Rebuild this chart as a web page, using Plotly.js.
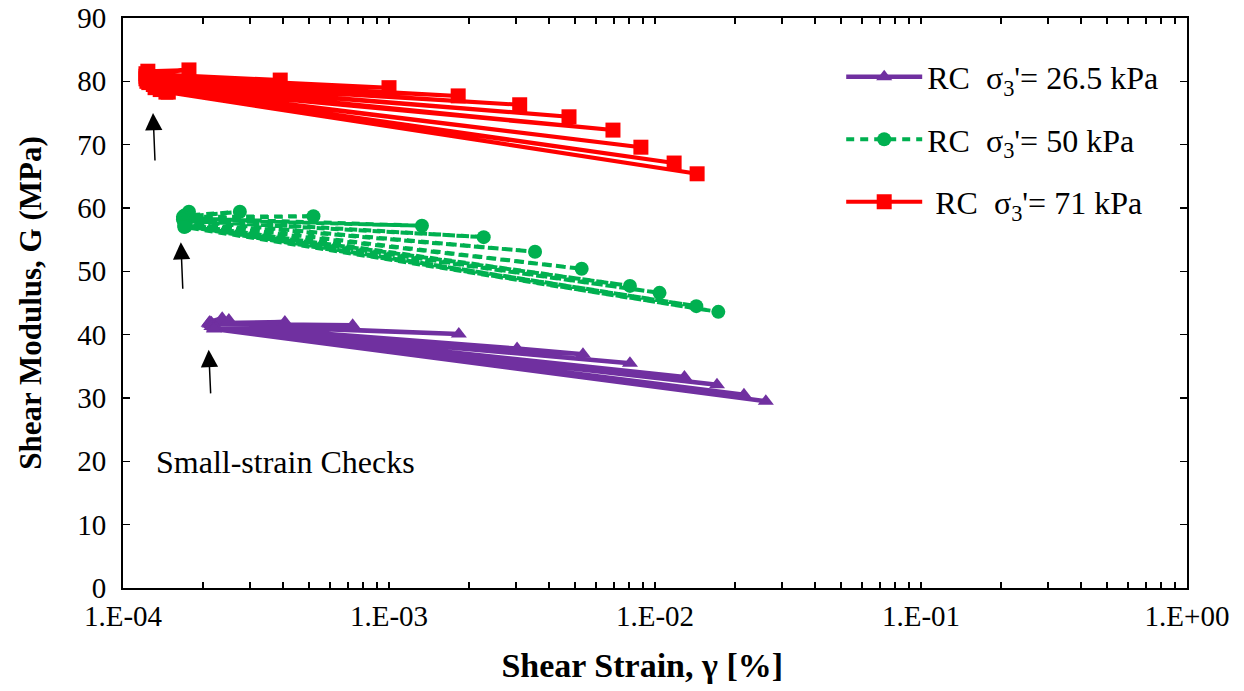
<!DOCTYPE html>
<html>
<head>
<meta charset="utf-8">
<script src="https://cdn.plot.ly/plotly-3.0.1.min.js"></script>
<style>html,body{margin:0;padding:0;background:#fff;}#chart{width:1244px;height:691px;}</style>
</head>
<body>
<div id="chart"></div>
<script>
const purpleStrain = [2.12e-4, 2.36e-4, 2.15e-4, 2.5e-4, 2.1e-4, 4.06e-4, 2.12e-4, 7.3e-4, 2.15e-4, 1.83e-3, 2.18e-4, 3.03e-3, 2.2e-4, 5.36e-3, 2.15e-4, 8.05e-3, 2.2e-4, 1.29e-2, 2.22e-4, 1.71e-2, 2.2e-4, 2.16e-2, 2.25e-4, 2.61e-2, 2.2e-4];
const purpleG      = [42.0, 42.6, 41.9, 42.3, 41.8, 42.0, 41.7, 41.5, 41.6, 40.1, 41.5, 37.8, 41.4, 36.9, 41.3, 35.5, 41.2, 33.3, 41.1, 32.1, 41.0, 30.5, 41.0, 29.5, 40.9];

const greenStrain = [1.77e-4, 1.7e-4, 2.75e-4, 1.68e-4, 5.2e-4, 1.7e-4, 1.33e-3, 1.68e-4, 2.27e-3, 1.7e-4, 3.54e-3, 1.72e-4, 5.3e-3, 1.7e-4, 8.05e-3, 1.72e-4, 1.04e-2, 1.7e-4, 1.43e-2, 1.72e-4, 1.73e-2, 1.7e-4];
const greenG      = [59.4, 58.8, 59.4, 58.6, 58.7, 58.4, 57.2, 58.2, 55.4, 58.0, 53.1, 57.8, 50.4, 57.6, 47.7, 57.4, 46.6, 57.2, 44.5, 57.1, 43.6, 57.0];

const redStrain = [1.24e-4, 1.77e-4, 1.22e-4, 3.9e-4, 1.22e-4, 1.0e-3, 1.22e-4, 1.82e-3, 1.23e-4, 3.1e-3, 1.25e-4, 4.75e-3, 1.3e-4, 6.95e-3, 1.32e-4, 8.85e-3, 1.38e-4, 1.18e-2, 1.45e-4, 1.44e-2, 1.48e-4];
const redG      = [81.6, 81.8, 81.2, 80.2, 80.8, 79.0, 80.4, 77.7, 80.0, 76.3, 79.8, 74.4, 79.5, 72.3, 79.0, 69.6, 78.7, 67.1, 78.3, 65.4, 78.3];

const seriesNames = ["RC&nbsp;&nbsp;σ<sub>3</sub>'= 26.5 kPa", "RC&nbsp;&nbsp;σ<sub>3</sub>'= 50 kPa", "&nbsp;RC&nbsp;&nbsp;σ<sub>3</sub>'= 71 kPa"];
const majorTickVals = [1e-4, 1e-3, 1e-2, 1e-1, 1e0];
const majorTickText = ["1.E-04", "1.E-03", "1.E-02", "1.E-01", "1.E+00"];
const yTickVals = [0, 10, 20, 30, 40, 50, 60, 70, 80, 90];

const FONT = "Liberation Serif, 'Times New Roman', serif";

// x-axis ticks: majors with labels, minors (2..9 per decade) unlabeled
const xTickVals = [], xTickText = [];
for (let d = 0; d < majorTickVals.length; d++) {
  xTickVals.push(majorTickVals[d]); xTickText.push(majorTickText[d]);
  if (d < majorTickVals.length - 1) {
    for (let m = 2; m <= 9; m++) { xTickVals.push(majorTickVals[d] * m); xTickText.push(""); }
  }
}

const traces = [
  {x: purpleStrain, y: purpleG, name: seriesNames[0], mode: "lines+markers", legendgroup: "a",
   line: {color: "#7030A0", width: 4.5}, marker: {symbol: "triangle-up", size: 14, color: "#7030A0"}},
  {x: greenStrain, y: greenG, name: seriesNames[1], mode: "lines+markers", legendgroup: "b",
   line: {color: "#00B050", width: 4, dash: "8px,6px"}, marker: {symbol: "circle", size: 14, color: "#00B050"}},
  {x: redStrain, y: redG, name: seriesNames[2], mode: "lines+markers", legendgroup: "c",
   line: {color: "#FF0000", width: 4}, marker: {symbol: "square", size: 15, color: "#FF0000"}}
];

const arrowStyle = {text: "", showarrow: true, arrowhead: 2, arrowsize: 2.3, arrowwidth: 1.5, arrowcolor: "#000", xref: "x", yref: "y", standoff: 0};

const layout = {
  width: 1244, height: 691,
  margin: {l: 123, r: 57, t: 18, b: 103},
  paper_bgcolor: "#fff", plot_bgcolor: "#fff",
  font: {family: FONT, color: "#000", size: 29},
  showlegend: true,
  legend: {x: 0.675, y: 0.945, xanchor: "left", yanchor: "top", font: {family: FONT, size: 32, color: "#000"},
           bgcolor: "rgba(0,0,0,0)", traceorder: "grouped", tracegroupgap: 18, itemwidth: 76},
  xaxis: {type: "log", range: [-4, 0], tickmode: "array", tickvals: xTickVals, ticktext: xTickText, tickangle: 0,
          ticks: "inside", ticklen: 6, tickwidth: 1.5, tickcolor: "#000",
          showline: true, linewidth: 2, linecolor: "#000", mirror: "ticks", showgrid: false, zeroline: false,
          tickfont: {family: FONT, size: 29, color: "#000"}, ticklabelstandoff: 1,
          title: {text: "<b>Shear Strain, γ [%]</b>&nbsp;&nbsp;&nbsp;", font: {family: FONT, size: 34, color: "#000"}, standoff: 22}},
  yaxis: {range: [0, 90], tickmode: "array", tickvals: yTickVals,
          ticks: "inside", ticklen: 7, tickwidth: 1.5, tickcolor: "#000",
          showline: true, linewidth: 2, linecolor: "#000", mirror: "ticks", showgrid: false, zeroline: false,
          tickfont: {family: FONT, size: 29, color: "#000"}, ticklabelstandoff: 9,
          title: {text: "<b>Shear Modulus, G (MPa)</b>", font: {family: FONT, size: 31, color: "#000"}, standoff: 26}},
  annotations: [
    Object.assign({x: Math.log10(1.297e-4), y: 75.0, ax: 2, ay: 49}, arrowStyle),
    Object.assign({x: Math.log10(1.65e-4), y: 54.6, ax: 2, ay: 48}, arrowStyle),
    Object.assign({x: Math.log10(2.1e-4), y: 37.6, ax: 2, ay: 45}, arrowStyle),
    {x: Math.log10(1.31e-4), y: 19.9, xref: "x", yref: "y", text: "Small-strain Checks", showarrow: false,
     xanchor: "left", yanchor: "middle", font: {family: FONT, size: 32, color: "#000"}}
  ]
};

Plotly.newPlot("chart", traces, layout, {displayModeBar: false, staticPlot: true});
</script>
</body>
</html>
